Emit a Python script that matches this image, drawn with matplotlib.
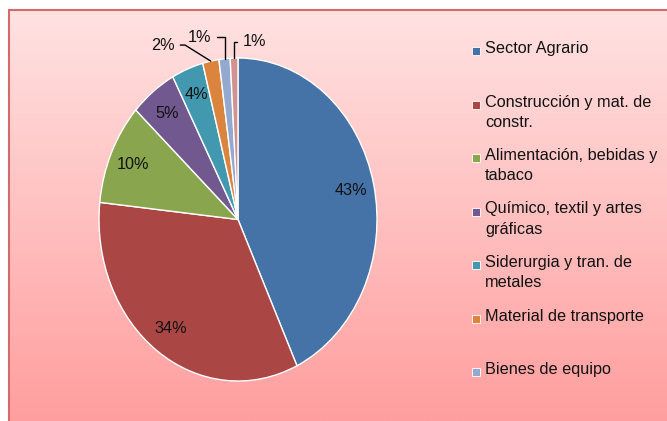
import matplotlib.pyplot as plt
import numpy as np
from matplotlib.patches import Rectangle

sectors = [
    "Sector Agrario",
    "Construcción y mat. de\nconstr.",
    "Alimentación, bebidas y\ntabaco",
    "Químico, textil y artes\ngráficas",
    "Siderurgia y tran. de\nmetales",
    "Material de transporte",
    "Bienes de equipo",
    "Otras industrias",
]
shares = [43.2, 33.8, 10.2, 5.4, 3.7, 1.9, 1.3, 0.9]
colors = ["#4572A7", "#AA4643", "#89A54E", "#71588F",
          "#4198AF", "#DB843D", "#93A9CF", "#D19392"]
legend_shown = 7  # the last entry falls outside the original picture

W, H = 667, 421
plt.rcParams["font.family"] = ["Liberation Sans", "DejaVu Sans"]
FS = 11.7
fig = plt.figure(figsize=(W / 100, H / 100), dpi=100)


def fx(px):
    return px / W


def fy(py):
    return 1 - py / H


# gradient background of the chart area
bg = fig.add_axes([fx(9), 0, 1 - fx(9), fy(10)], zorder=0)
grad = np.linspace(0, 1, 256).reshape(-1, 1)
top = np.array([255, 226, 226]) / 255
bot = np.array([255, 158, 158]) / 255
img = top + (bot - top) * grad[..., None]
bg.imshow(img, aspect="auto", extent=(0, 1, 0, 1))
bg.set_axis_off()
fig.patches.append(Rectangle((fx(9), -0.01), 1.01, fy(10) + 0.01,
                             transform=fig.transFigure, fill=False,
                             edgecolor="#D46A6A", linewidth=1.5, zorder=5))

# pie (stretched like the original)
ax = fig.add_axes([fx(99), fy(381), fx(377) - fx(99), fy(58) - fy(381)], zorder=2)
ax.patch.set_alpha(0)


def pct(p):
    return f"{p:.0f}%" if p >= 3 else ""


wedges, _, autotexts = ax.pie(
    shares, colors=colors, startangle=90, counterclock=False,
    autopct=pct, pctdistance=0.83,
    wedgeprops=dict(edgecolor="white", linewidth=1),
    textprops=dict(fontsize=FS, color="#111111"))
ax.set_aspect("auto")
ax.set_xlim(-1, 1)
ax.set_ylim(-1, 1)

# small slices: labels outside with leader lines
small = [(5, (-0.54, 1.08), "angle,angleA=0,angleB=148"),
         (6, (-0.275, 1.13), "angle,angleA=0,angleB=90"),
         (7, (0.12, 1.10), "angle,angleA=180,angleB=90")]
for i, pos, conn in small:
    w = wedges[i]
    mid = np.deg2rad((w.theta1 + w.theta2) / 2)
    ax.annotate(f"{shares[i]:.0f}%", xy=(np.cos(mid), np.sin(mid)), xytext=pos,
                ha="center", va="center", fontsize=FS, color="#111111",
                annotation_clip=False,
                arrowprops=dict(arrowstyle="-", color="black", lw=1,
                                connectionstyle=conn, shrinkA=2, shrinkB=0))

# legend drawn as in the original: fixed slots, text top-aligned
for i, (name, c) in enumerate(zip(sectors[:legend_shown], colors)):
    y0 = 41 + i * 53.5
    fig.patches.append(Rectangle((fx(472), fy(y0 + 14)), 8 / W, 8 / H,
                                 transform=fig.transFigure, facecolor=c,
                                 edgecolor="white", linewidth=0.6, zorder=6))
    fig.text(fx(485), fy(y0), name, ha="left", va="top", fontsize=FS,
             color="#111111", linespacing=1.45, zorder=6)

fig.savefig("out.png", dpi=100)
